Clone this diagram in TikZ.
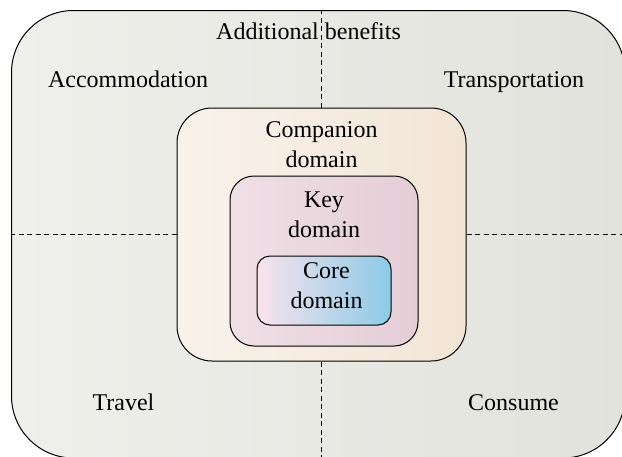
\documentclass[tikz,border=0pt]{standalone}
\usepackage{fontspec}
\setmainfont{Liberation Serif}
\definecolor{outL}{RGB}{239,239,235}
\definecolor{outR}{RGB}{226,226,221}
\definecolor{comL}{RGB}{249,242,235}
\definecolor{comR}{RGB}{242,229,214}
\definecolor{keyL}{RGB}{239,224,230}
\definecolor{keyR}{RGB}{229,205,214}
\definecolor{corL}{RGB}{249,227,237}
\definecolor{corM}{RGB}{220,221,238}
\definecolor{corR}{RGB}{140,202,230}
\tikzset{
  boxshape/.style={rectangle, draw=black, line width=1pt, inner sep=0pt},
  lbl/.style={anchor=base, align=center, inner sep=0pt, font=\fontsize{24}{29.5}\selectfont},
  divider/.style={draw=black, line width=0.9pt, dash pattern=on 5pt off 3.5pt}
}
\begin{document}
\begin{tikzpicture}[x=1pt,y=-1pt]
\useasboundingbox (0,0) rectangle (622,456);
% boxes
\node[boxshape, rounded corners=62pt, left color=outL, right color=outR,
      minimum width=613.5pt, minimum height=447.5pt] (outer) at (318.25,234.25) {};
\node[boxshape, rounded corners=35pt, left color=comL, right color=comR,
      minimum width=289pt, minimum height=253pt] (comp) at (321.5,234.5) {};
\node[boxshape, rounded corners=24pt, left color=keyL, right color=keyR,
      minimum width=188pt, minimum height=170pt] (key) at (324,261) {};
\node[boxshape, rounded corners=13pt, left color=corL, middle color=corM, right color=corR,
      minimum width=134pt, minimum height=69pt] (core) at (324,290.5) {};
% dividers
\draw[divider] (comp.north) -- (comp.north |- outer.north);
\draw[divider] (comp.south) -- (comp.south |- outer.south);
\draw[divider] (comp.west) -- (comp.west -| outer.west);
\draw[divider] (comp.east) -- (comp.east -| outer.east);
% labels
\node[lbl] (ab) at (308.5,39) {Additional benefits};
\node[lbl] (acc) at (128,87) {Accommodation};
\node[lbl] (tra) at (514,87) {Transportation};
\node[lbl] (trv) at (123.5,410) {Travel};
\node[lbl] (con) at (513.5,410) {Consume};
\node[lbl] (compl) at (321.5,167) {Companion\\domain};
\node[lbl] (keyl) at (324,237) {Key\\domain};
\node[lbl] (corel) at (326.5,308) {Core\\domain};
\end{tikzpicture}
\end{document}
